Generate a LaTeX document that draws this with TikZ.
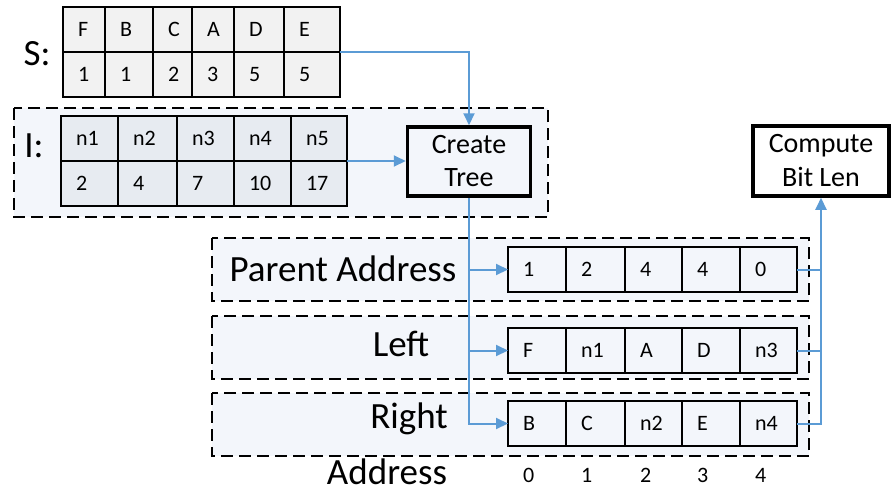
\documentclass[tikz,border=0pt]{standalone}
\usepackage{fontspec}
\setmainfont{Carlito}
\usetikzlibrary{arrows.meta,positioning}

\definecolor{linkblue}{HTML}{5B9BD5}
\definecolor{panelfill}{HTML}{F3F6FB}
\definecolor{sfill}{HTML}{F2F2F2}
\definecolor{ifill}{HTML}{E7EBF1}

\tikzset{
  cell/.style={draw, line width=1.8pt, outer sep=0pt, inner xsep=15pt, inner ysep=0pt,
    text width=#1, align=left, minimum height=45pt, font=\fontsize{22}{24}\selectfont},
  scell/.style={cell=#1, fill=sfill},
  icell/.style={cell=#1, fill=ifill},
  acell/.style={cell=#1, fill=panelfill},
  addr/.style={cell=#1, draw=none},
  panel/.style={draw, line width=2pt, dash pattern=on 12pt off 6pt, fill=panelfill},
  stage/.style={draw, line width=3.5pt, align=center},
  biglabel/.style={font=\fontsize{37}{40}\selectfont, inner sep=0pt, anchor=base},
  wire/.style={draw=linkblue, line width=2pt},
  link/.style={wire, -{Triangle[length=12pt,width=11pt]}},
}

\begin{document}
\begin{tikzpicture}[x=1pt, y=-1pt]
      \useasboundingbox (0,0) rectangle (891,493);

      % dashed panels
      \draw[panel] (14,108) rectangle (548,217);
      \draw[panel] (212,238) rectangle (809,301);
      \draw[panel] (212,316) rectangle (809,379);
      \draw[panel] (212,393) rectangle (809,456);

      % S table
      \node[biglabel] (slabel) at (37,65) {S:};
      \node[scell=12pt, anchor=north west] (sym1) at (63,7) {F};
      \node[scell=18pt] (sym2) [right=0pt of sym1] {B};
      \node[scell=9pt] (sym3) [right=0pt of sym2] {C};
      \node[scell=12pt] (sym4) [right=0pt of sym3] {A};
      \node[scell=20pt] (sym5) [right=0pt of sym4] {D};
      \node[scell=26pt] (sym6) [right=0pt of sym5] {E};
      \node[scell=12pt] (cnt1) [below=0pt of sym1] {1};
      \node[scell=18pt] (cnt2) [below=0pt of sym2] {1};
      \node[scell=9pt] (cnt3) [below=0pt of sym3] {2};
      \node[scell=12pt] (cnt4) [below=0pt of sym4] {3};
      \node[scell=20pt] (cnt5) [below=0pt of sym5] {5};
      \node[scell=26pt] (cnt6) [below=0pt of sym6] {5};

      % I table
      \node[biglabel] (ilabel) at (34,157) {I:};
      \node[icell=27pt, anchor=north west] (in1) at (61,116) {n1};
      \node[icell=29pt] (in2) [right=0pt of in1] {n2};
      \node[icell=27pt] (in3) [right=0pt of in2] {n3};
      \node[icell=27pt] (in4) [right=0pt of in3] {n4};
      \node[icell=26pt] (in5) [right=0pt of in4] {n5};
      \node[icell=27pt] (iw1) [below=0pt of in1] {2};
      \node[icell=29pt] (iw2) [below=0pt of in2] {4};
      \node[icell=27pt] (iw3) [below=0pt of in3] {7};
      \node[icell=27pt] (iw4) [below=0pt of in4] {10};
      \node[icell=26pt] (iw5) [below=0pt of in5] {17};

      % stages
      \node[stage, fill=panelfill, minimum width=123pt, minimum height=69pt,
        font=\fontsize{28}{33}\selectfont] (tree) at (469,161.5) {Create\\Tree};
      \node[stage, fill=white, minimum width=136pt, minimum height=70pt,
        font=\fontsize{28}{34}\selectfont] (bitlen) at (821,161) {Compute\\Bit Len};

      % parent address array
      \node[biglabel] (plabel) at (343,281) {Parent Address};
      \node[acell=28pt, anchor=north west] (p1) at (508,247) {1};
      \node[acell=29pt] (p2) [right=0pt of p1] {2};
      \node[acell=27pt] (p3) [right=0pt of p2] {4};
      \node[acell=28pt] (p4) [right=0pt of p3] {4};
      \node[acell=27pt] (p5) [right=0pt of p4] {0};

      % left array
      \node[biglabel] (llabel) at (401,356) {Left};
      \node[acell=28pt, anchor=north west] (l1) at (508,328) {F};
      \node[acell=29pt] (l2) [right=0pt of l1] {n1};
      \node[acell=27pt] (l3) [right=0pt of l2] {A};
      \node[acell=28pt] (l4) [right=0pt of l3] {D};
      \node[acell=27pt] (l5) [right=0pt of l4] {n3};

      % right array
      \node[biglabel] (rlabel) at (409,428) {Right};
      \node[acell=28pt, anchor=north west] (r1) at (508,401) {B};
      \node[acell=29pt] (r2) [right=0pt of r1] {C};
      \node[acell=27pt] (r3) [right=0pt of r2] {n2};
      \node[acell=28pt] (r4) [right=0pt of r3] {E};
      \node[acell=27pt] (r5) [right=0pt of r4] {n4};

      % addresses
      \node[biglabel] (alabel) at (387,484) {Address};
      \node[addr=28pt] (a0) [below=7pt of r1] {0};
      \node[addr=29pt] (a1) [below=7pt of r2] {1};
      \node[addr=27pt] (a2) [below=7pt of r3] {2};
      \node[addr=28pt] (a3) [below=7pt of r4] {3};
      \node[addr=27pt] (a4) [below=7pt of r5] {4};

      % connectors
      \draw[link] (sym6.south east) -| (tree.north);
      \draw[link] (in5.south east) -- (in5.south east -| tree.west);
      \draw[link] (tree.south) |- (r1.west);
      \draw[link] (tree.south |- p1.west) -- (p1.west);
      \draw[link] (tree.south |- l1.west) -- (l1.west);
      \draw[wire] (p5.east) -- (p5.east -| bitlen.south);
      \draw[wire] (l5.east) -- (l5.east -| bitlen.south);
      \draw[link] (r5.east) -| (bitlen.south);
\end{tikzpicture}
\end{document}
